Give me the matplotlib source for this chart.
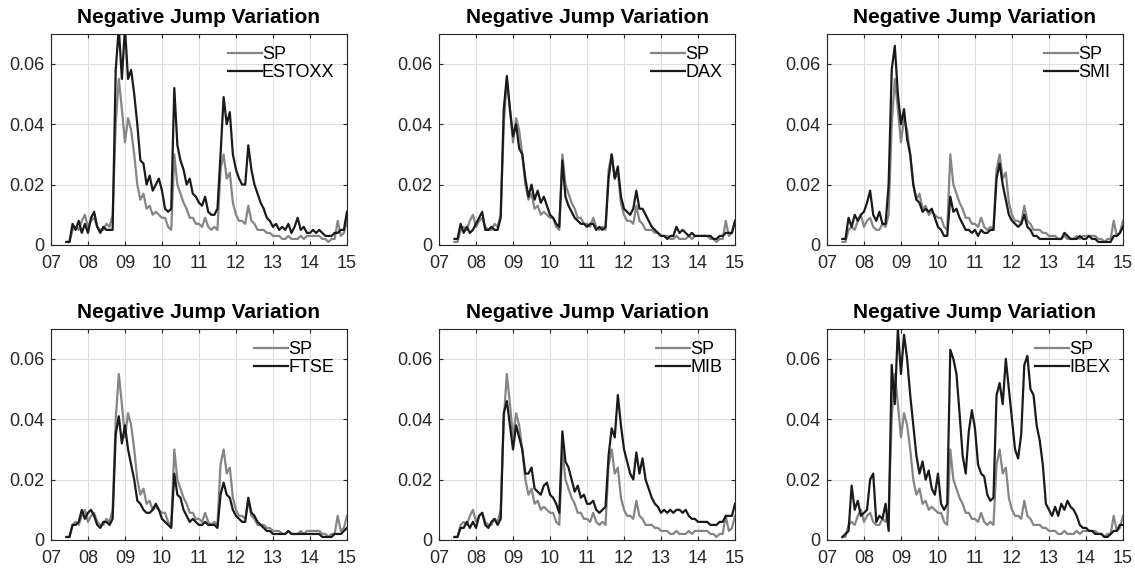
import numpy as np
import matplotlib
matplotlib.use("Agg")
import matplotlib.pyplot as plt

plt.rcParams['font.family'] = ['Liberation Sans', 'DejaVu Sans']

# monthly observations, Jun 2007 .. Jan 2015, values in 1e-3
t = 2007 + 5 / 12 + np.arange(92) / 12.0 - 2000

sp = [1, 1, 5, 6, 5, 8, 10,
      6, 8, 9, 6, 5, 5, 7, 6, 10, 40, 55, 45,
      34, 42, 38, 30, 20, 15, 17, 12, 13, 10, 11, 10,
      9, 9, 6, 5, 30, 20, 17, 14, 12, 9, 9, 7,
      7, 6, 9, 6, 5, 6, 5, 25, 30, 22, 24, 14,
      10, 8, 8, 7, 13, 8, 7, 5, 5, 5, 4, 4,
      3, 3, 3, 2, 2, 3, 2, 2, 2, 3, 2, 3,
      3, 3, 3, 3, 2, 2, 1, 2, 2, 8, 3, 4, 8]

estoxx = [1, 1, 7, 5, 8, 4, 7,
          4, 9, 11, 6, 4, 6, 5, 5, 5, 58, 72, 55,
          72, 55, 58, 50, 40, 28, 27, 20, 23, 18, 20, 22,
          18, 12, 11, 12, 52, 33, 28, 25, 20, 22, 17, 16,
          14, 13, 16, 11, 10, 10, 12, 30, 49, 40, 44, 30,
          25, 22, 20, 20, 33, 25, 20, 17, 14, 12, 9, 8,
          6, 7, 5, 6, 5, 7, 4, 6, 9, 5, 6, 4,
          4, 5, 4, 5, 4, 3, 3, 3, 4, 4, 5, 5, 11]

dax = [2, 2, 7, 4, 6, 4, 5,
       7, 9, 11, 5, 5, 6, 5, 5, 9, 45, 56, 45,
       36, 40, 32, 30, 22, 16, 20, 15, 18, 14, 16, 13,
       10, 9, 7, 6, 28, 16, 13, 11, 9, 8, 7, 7,
       6, 7, 7, 5, 6, 5, 6, 22, 30, 22, 26, 16,
       12, 11, 10, 12, 18, 12, 12, 10, 8, 6, 5, 4,
       3, 3, 2, 3, 3, 6, 4, 5, 4, 3, 4, 3,
       3, 3, 3, 3, 3, 2, 2, 3, 3, 4, 4, 4, 8]

smi = [2, 2, 9, 6, 10, 8, 10,
       11, 14, 18, 10, 8, 11, 7, 7, 20, 58, 66, 50,
       40, 45, 35, 30, 20, 15, 14, 11, 12, 11, 12, 9,
       6, 5, 3, 3, 16, 11, 12, 9, 7, 5, 5, 4,
       5, 3, 5, 4, 4, 5, 5, 22, 27, 20, 15, 10,
       8, 7, 6, 7, 10, 6, 5, 3, 3, 2, 2, 2,
       2, 2, 2, 2, 2, 4, 3, 2, 2, 2, 3, 2,
       2, 3, 2, 2, 1, 1, 1, 1, 1, 3, 3, 4, 6]

ftse = [1, 1, 5, 5, 6, 10, 7,
        9, 10, 8, 5, 4, 6, 6, 5, 7, 35, 41, 32,
        38, 30, 25, 20, 13, 12, 10, 9, 9, 10, 12, 10,
        7, 6, 5, 4, 22, 15, 14, 10, 8, 6, 7, 6,
        5, 5, 6, 5, 5, 5, 4, 15, 19, 15, 14, 10,
        8, 7, 6, 6, 14, 9, 8, 6, 5, 4, 3, 3,
        2, 2, 2, 2, 2, 3, 2, 2, 2, 2, 2, 2,
        2, 2, 2, 2, 1, 1, 1, 1, 2, 2, 2, 3, 4]

mib = [1, 1, 4, 4, 6, 4, 6,
       4, 8, 9, 5, 4, 6, 7, 5, 7, 42, 46, 38,
       30, 38, 34, 30, 22, 22, 24, 17, 16, 15, 18, 19,
       15, 14, 12, 9, 36, 26, 24, 20, 16, 18, 14, 15,
       12, 12, 13, 10, 9, 10, 11, 28, 37, 34, 48, 38,
       30, 26, 22, 20, 29, 22, 27, 20, 17, 14, 12, 11,
       9, 10, 9, 10, 9, 10, 10, 9, 10, 8, 7, 7,
       6, 6, 6, 6, 5, 5, 5, 6, 6, 8, 8, 8, 12]

ibex = [1, 2, 3, 18, 10, 13, 8,
        9, 10, 20, 22, 6, 8, 7, 12, 3, 58, 45, 70,
        55, 68, 60, 48, 38, 28, 22, 26, 20, 23, 17, 15,
        22, 12, 10, 12, 63, 60, 55, 42, 28, 22, 36, 43,
        37, 25, 22, 21, 15, 13, 14, 48, 52, 45, 60, 50,
        40, 30, 27, 35, 58, 61, 50, 48, 38, 33, 25, 12,
        10, 8, 11, 8, 12, 10, 13, 11, 10, 8, 5, 4,
        4, 3, 3, 2, 2, 2, 1, 1, 2, 3, 3, 5, 5]

names = ['ESTOXX', 'DAX', 'SMI', 'FTSE', 'MIB', 'IBEX']
series = [estoxx, dax, smi, ftse, mib, ibex]

xticks = [7, 8, 9, 10, 11, 12, 13, 14, 15]
xlabels = ['07', '08', '09', '10', '11', '12', '13', '14', '15']
yticks = [0, 0.02, 0.04, 0.06]
ylabels = ['0', '0.02', '0.04', '0.06']

fig = plt.figure(figsize=(11.35, 5.68), dpi=100)

lefts = [0.0449, 0.3868, 0.7286]
bottoms = [0.5687, 0.0493]
w, h = 0.2608, 0.372

for k, (name, vals) in enumerate(zip(names, series)):
    r, c = divmod(k, 3)
    ax = fig.add_axes([lefts[c], bottoms[r], w, h])
    ax.plot(t, np.array(sp) * 1e-3, color='#858585', lw=1.6, label='SP')
    ax.plot(t, np.array(vals) * 1e-3, color='#1a1a1a', lw=1.6, label=name)
    ax.set_xlim(7, 15)
    ax.set_ylim(0, 0.07)
    ax.set_xticks(xticks)
    ax.set_xticklabels(xlabels)
    ax.set_yticks(yticks)
    ax.set_yticklabels(ylabels)
    ax.grid(True, color='#dedede', lw=0.8)
    ax.set_axisbelow(True)
    ax.tick_params(direction='in', top=True, right=True, labelsize=13,
                   color='#262626', labelcolor='#262626', length=3)
    ax.tick_params(axis='x', pad=7)
    ax.tick_params(axis='y', pad=5)
    for s in ax.spines.values():
        s.set_color('#262626')
        s.set_linewidth(0.8)
    ax.set_title('Negative Jump Variation', fontsize=15, fontweight='bold', pad=8)
    ax.legend(loc='upper right', frameon=False, fontsize=13, handlelength=1.9,
              handletextpad=0.0, labelspacing=0.05, borderaxespad=0.3,
              bbox_to_anchor=(1.0, 1.0))

fig.savefig('out.png', dpi=100)
